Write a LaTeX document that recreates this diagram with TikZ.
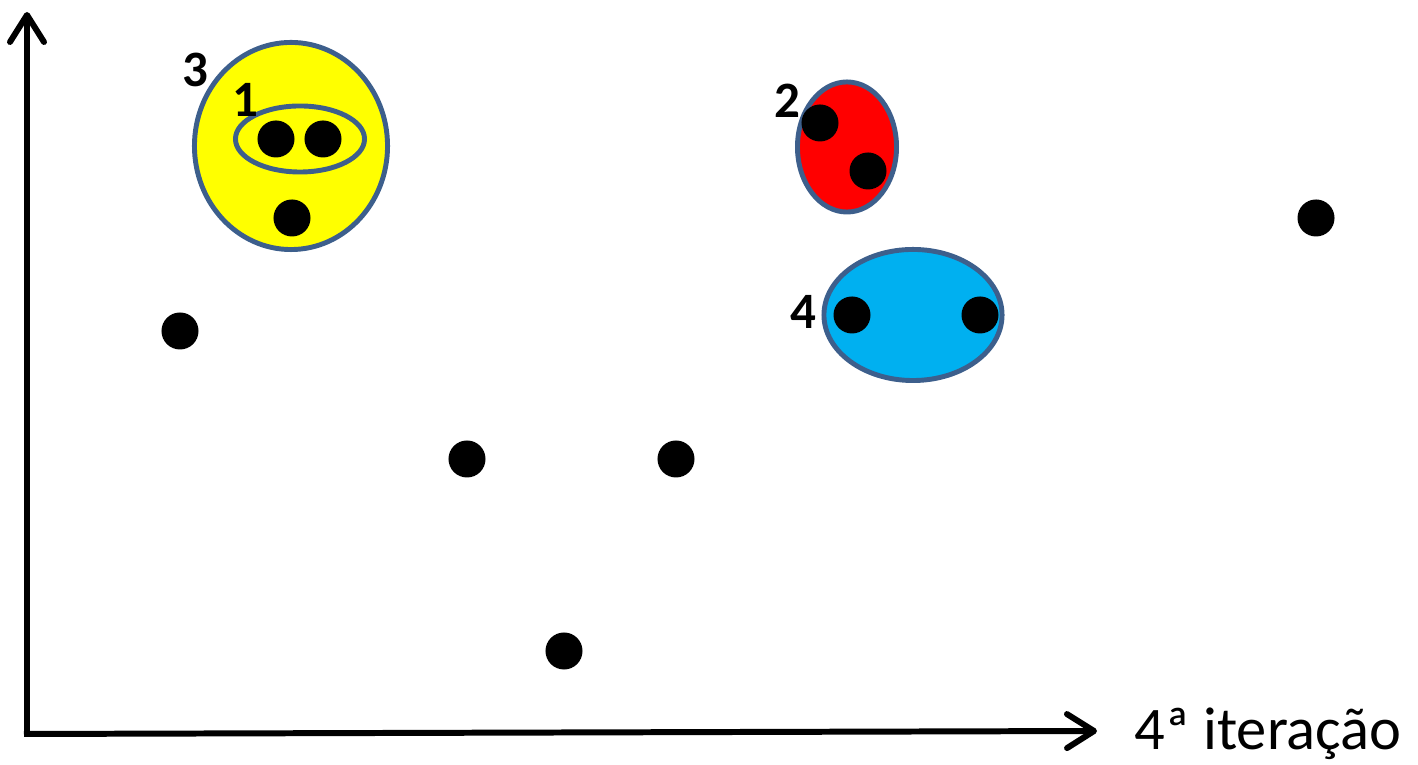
\documentclass[tikz,border=0pt]{standalone}
\usepackage{fontspec}
\setmainfont{Carlito}
\usetikzlibrary{arrows.meta,shapes.geometric}
\definecolor{rim}{HTML}{3D5F8C}
\definecolor{skyblue}{HTML}{00B0F0}
\definecolor{sunyellow}{HTML}{FFFF00}
\tikzset{
  dot/.style={circle,fill=black,inner sep=0pt,minimum size=0.37cm},
  cluster/.style={ellipse,draw=rim,line width=1.4pt,inner sep=0pt},
  lbl/.style={font=\fontsize{14.5}{17}\selectfont\bfseries,inner sep=0pt},
  axis/.style={line width=1.7pt,-{Straight Barb[length=2.7mm,width=3.4mm,line cap=round,line join=round]}}
}
\begin{document}
\begin{tikzpicture}[x=0.01cm,y=-0.01cm]
\useasboundingbox (0,0) rectangle (1418,765);
% axes
\coordinate (origin) at (27,734);
\coordinate (ytip) at (27,12);
\coordinate (xtip) at (1097,731);
\draw[axis] (origin) -- (ytip);
\draw[axis] ([xshift=-0.03cm]origin) -- (xtip);
\node[anchor=base west,inner sep=0pt,font=\fontsize{17.2}{20}\selectfont] (xlabel) at (1134,750) {4ª iteração};
% clusters
\node[cluster,fill=sunyellow,minimum width=1.93cm,minimum height=2.07cm] (c3) at (291,146) {};
\node[cluster,fill=sunyellow,minimum width=1.29cm,minimum height=0.66cm] (c1) at (300,139) {};
\node[cluster,fill=red,minimum width=0.99cm,minimum height=1.30cm] (c2) at (847,147) {};
\node[cluster,fill=skyblue,minimum width=1.78cm,minimum height=1.31cm] (c4) at (913,315) {};
\node[lbl] (l3) at (195,70) {3};
\node[lbl] (l1) at (245,100) {1};
\node[lbl] (l2) at (787,101) {2};
\node[lbl] (l4) at (803,312) {4};
% points
\node[dot] (p1) at (276,139) {};
\node[dot] (p2) at (323,139) {};
\node[dot] (p3) at (292,218) {};
\node[dot] (p4) at (820,123) {};
\node[dot] (p5) at (868,171) {};
\node[dot] (p6) at (852,315) {};
\node[dot] (p7) at (980,315) {};
\node[dot] (p8) at (180,331) {};
\node[dot] (p9) at (467,459) {};
\node[dot] (p10) at (676,459) {};
\node[dot] (p11) at (564,651) {};
\node[dot] (p12) at (1316,218) {};
\end{tikzpicture}
\end{document}
